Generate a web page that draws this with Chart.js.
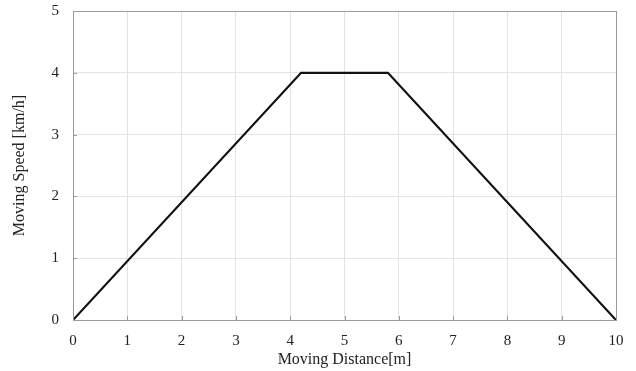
<!DOCTYPE html>
<html>
<head>
<meta charset="utf-8">
<script src="https://cdn.jsdelivr.net/npm/chart.js@4"></script>
<style>
html,body{margin:0;padding:0;background:#fff;}
#wrap{width:636px;height:371px;}
</style>
</head>
<body>
<div id="wrap"><canvas id="c" width="636" height="371"></canvas></div>
<script>
const distances = [0, 4.2, 5.8, 10];
const speeds = [0, 4, 4, 0];
const xTicks = [0,1,2,3,4,5,6,7,8,9,10];
const yTicks = [0,1,2,3,4,5];

const points = distances.map((d, i) => ({x: d, y: speeds[i]}));
const FONT = "'Liberation Serif', 'Times New Roman', serif";

const boxPlugin = {
  id: 'box',
  afterDraw(chart) {
    const a = chart.chartArea, ctx = chart.ctx;
    ctx.save();
    ctx.strokeStyle = '#9a9a9a';
    ctx.lineWidth = 1;
    ctx.strokeRect(a.left + 0.5, a.top + 0.5, a.right - a.left, a.bottom - a.top);
    // small inward tick marks
    const xs = chart.scales.x, ys = chart.scales.y;
    ctx.beginPath();
    xTicks.forEach(v => {
      const px = Math.round(xs.getPixelForValue(v)) + 0.5;
      ctx.moveTo(px, a.bottom); ctx.lineTo(px, a.bottom - 4);
    });
    yTicks.forEach(v => {
      const py = Math.round(ys.getPixelForValue(v)) + 0.5;
      ctx.moveTo(a.left, py); ctx.lineTo(a.left + 4, py);
    });
    ctx.stroke();
    ctx.restore();
  }
};

new Chart(document.getElementById('c'), {
  type: 'line',
  data: {
    datasets: [{
      data: points,
      borderColor: '#111',
      borderWidth: 2.2,
      pointRadius: 0,
      tension: 0,
      fill: false
    }]
  },
  options: {
    responsive: false,
    animation: false,
    layout: {padding: {left: 0, right: 20, top: 11, bottom: 0}},
    plugins: {legend: {display: false}, tooltip: {enabled: false}},
    scales: {
      x: {
        type: 'linear', min: 0, max: 10,
        afterBuildTicks(s) { s.ticks = xTicks.map(v => ({value: v})); },
        afterFit(s) { s.height = 51; },
        grid: {color: '#e3e3e3', drawTicks: false},
        border: {color: '#9a9a9a'},
        ticks: {color: '#222', font: {family: FONT, size: 15}, padding: 12, maxRotation: 0},
        title: {display: true, text: 'Moving Distance[m]', color: '#222', font: {family: FONT, size: 16}, padding: {top: 1, bottom: 2}}
      },
      y: {
        type: 'linear', min: 0, max: 5,
        afterBuildTicks(s) { s.ticks = yTicks.map(v => ({value: v})); },
        afterFit(s) { s.width = 73; s.paddingTop = 0; s.paddingBottom = 0; },
        grid: {color: '#e3e3e3', drawTicks: false},
        border: {color: '#9a9a9a'},
        ticks: {color: '#222', font: {family: FONT, size: 15}, padding: 14},
        title: {display: true, text: 'Moving Speed [km/h]', color: '#222', font: {family: FONT, size: 16}, padding: {top: 10, bottom: 0}}
      }
    }
  },
  plugins: [boxPlugin]
});
</script>
</body>
</html>
